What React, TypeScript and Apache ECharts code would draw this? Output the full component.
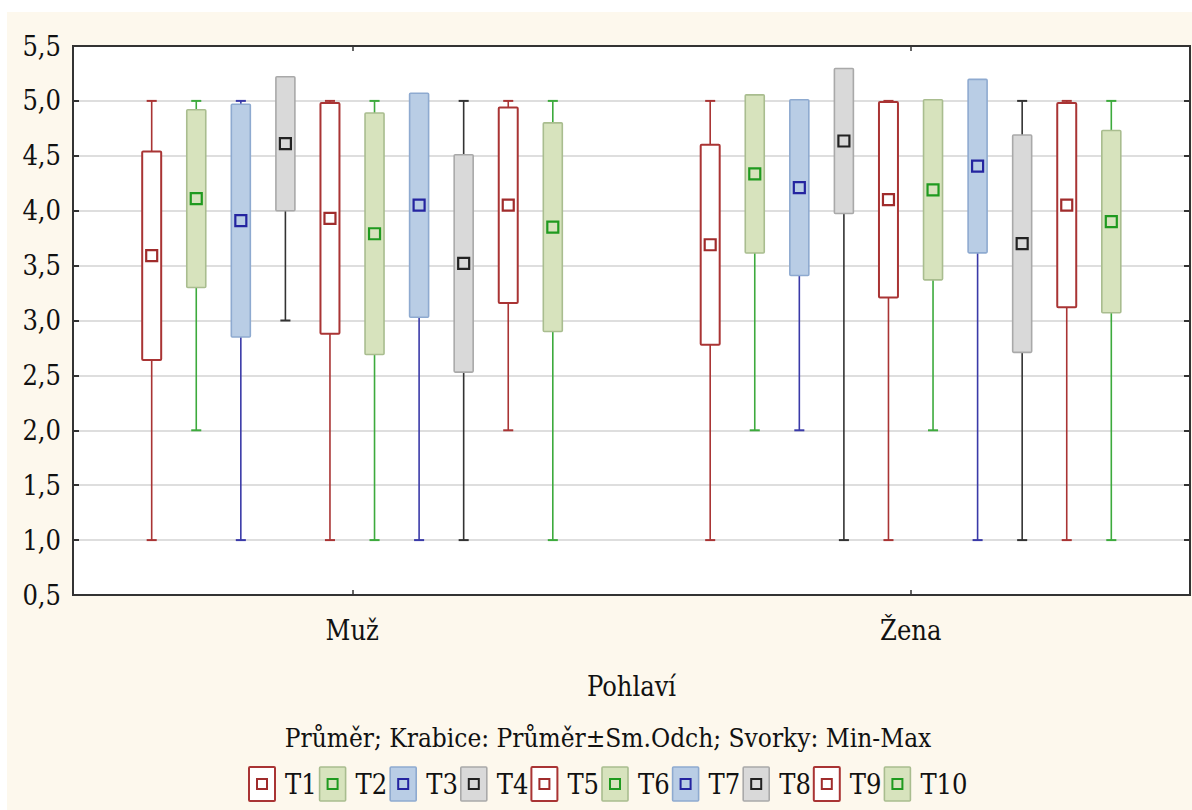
import React, { useEffect, useRef } from "react";
import * as echarts from "echarts";

// ---- data ----
const categories = ["Muž", "Žena"];
const seriesNames = ["T1", "T2", "T3", "T4", "T5", "T6", "T7", "T8", "T9", "T10"];
const yTicks = [0.5, 1.0, 1.5, 2.0, 2.5, 3.0, 3.5, 4.0, 4.5, 5.0, 5.5];

const meanMuz = [3.59, 4.11, 3.91, 4.61, 3.93, 3.79, 4.05, 3.52, 4.05, 3.85];
const sdMuz = [0.95, 0.81, 1.06, 0.61, 1.05, 1.1, 1.02, 0.99, 0.89, 0.95];
const minMuz = [1, 2, 1, 3, 1, 1, 1, 1, 2, 1];
const maxMuz = [5, 5, 5, 5, 5, 5, 5, 5, 5, 5];

const meanZena = [3.69, 4.335, 4.21, 4.635, 4.1, 4.19, 4.406, 3.7, 4.05, 3.9];
const sdZena = [0.91, 0.72, 0.8, 0.66, 0.89, 0.82, 0.79, 0.99, 0.93, 0.83];
const minZena = [1, 2, 2, 1, 1, 2, 1, 1, 1, 1];
const maxZena = [5, 5, 5, 5, 5, 5, 5, 5, 5, 5];

const axisTitle = "Pohlaví";
const caption = "Průměr; Krabice: Průměr±Sm.Odch; Svorky: Min-Max";

// ---- styles ----
const FONT = "DejaVu Serif Condensed, DejaVu Serif";
const FS = 27;
const TEXT = "#111";
type Sty = { fill: string; stroke: string; boxLw: number; line: string; marker: string };
const RED: Sty = { fill: "#ffffff", stroke: "#a93434", boxLw: 2, line: "#a93434", marker: "#a02c2c" };
const GREEN: Sty = { fill: "#d7e3bd", stroke: "#a9bd8f", boxLw: 1.6, line: "#3daa3d", marker: "#1f9a1f" };
const BLUE: Sty = { fill: "#b9cde5", stroke: "#8eaad0", boxLw: 1.6, line: "#3a3aa8", marker: "#2424a0" };
const GRAY: Sty = { fill: "#d9d9d9", stroke: "#a9a9a9", boxLw: 1.6, line: "#333333", marker: "#222222" };
const styles: Sty[] = [RED, GREEN, BLUE, GRAY, RED, GREEN, BLUE, GRAY, RED, GREEN];

const fmt = (v: number) => v.toFixed(1).replace(".", ",");

export default function App() {
  const ref = useRef<HTMLDivElement>(null);

  useEffect(() => {
    if (!ref.current) return;
    const chart = echarts.init(ref.current, undefined, { renderer: "svg" });

    const n = seriesNames.length;
    const series = seriesNames.map((name, i) => {
      const st = styles[i];
      const data = [
        [0, minMuz[i], meanMuz[i] - sdMuz[i], meanMuz[i], meanMuz[i] + sdMuz[i], maxMuz[i]],
        [1, minZena[i], meanZena[i] - sdZena[i], meanZena[i], meanZena[i] + sdZena[i], maxZena[i]],
      ];
      return {
        type: "custom",
        name,
        xAxisIndex: 0,
        yAxisIndex: 0,
        encode: { x: 0, y: [1, 2, 3, 4, 5] },
        data,
        renderItem: (params: any, api: any) => {
          const cat = api.value(0);
          const bw = api.size([1, 0])[0];
          const off = (params.seriesIndex - (n - 1) / 2) * bw * 0.0798;
          const pMin = api.coord([cat, api.value(1)]);
          const x = pMin[0] + off;
          const yMin = pMin[1];
          const yLo = api.coord([cat, api.value(2)])[1];
          const yMean = api.coord([cat, api.value(3)])[1];
          const yHi = api.coord([cat, api.value(4)])[1];
          const yMax = api.coord([cat, api.value(5)])[1];
          const boxW = bw * 0.034;
          const capW = bw * 0.018;
          const ms = 11;
          return {
            type: "group",
            children: [
              { type: "line", shape: { x1: x, y1: yMin, x2: x, y2: yMax }, style: { stroke: st.line, lineWidth: 1.6 } },
              { type: "line", shape: { x1: x - capW / 2, y1: yMin, x2: x + capW / 2, y2: yMin }, style: { stroke: st.line, lineWidth: 2 } },
              { type: "line", shape: { x1: x - capW / 2, y1: yMax, x2: x + capW / 2, y2: yMax }, style: { stroke: st.line, lineWidth: 2 } },
              {
                type: "rect",
                shape: { x: x - boxW / 2, y: yHi, width: boxW, height: yLo - yHi, r: 1 },
                style: { fill: st.fill, stroke: st.stroke, lineWidth: st.boxLw },
              },
              {
                type: "rect",
                shape: { x: x - ms / 2, y: yMean - ms / 2, width: ms, height: ms },
                style: { fill: "none", stroke: st.marker, lineWidth: 2.2 },
              },
            ],
          };
        },
      };
    });

    const legendEls: any[] = [];
    seriesNames.forEach((name, i) => {
      const st = styles[i];
      const lx = 242 + i * 70.6;
      const cy = 772;
      legendEls.push({
        type: "rect",
        shape: { x: lx, y: cy - 17, width: 26, height: 34, r: 1 },
        style: { fill: st.fill, stroke: st.stroke, lineWidth: st === RED ? 2 : 1.6 },
      });
      legendEls.push({
        type: "rect",
        shape: { x: lx + 8, y: cy - 5, width: 10, height: 10 },
        style: { fill: "none", stroke: st.marker, lineWidth: 2 },
      });
      legendEls.push({
        type: "text",
        x: lx + 36,
        y: cy,
        style: { text: name, fill: TEXT, fontFamily: FONT, fontSize: FS, textAlign: "left", textVerticalAlign: "middle" },
      });
    });

    chart.setOption({
      animation: false,
      backgroundColor: "#fdf8ed",
      textStyle: { fontFamily: FONT },
      grid: {
        left: 66,
        right: 2,
        top: 34,
        bottom: 215,
        show: true,
        backgroundColor: "#ffffff",
        borderColor: "#333",
        borderWidth: 2,
      },
      xAxis: [
        {
          type: "category",
          data: categories,
          position: "bottom",
          name: axisTitle,
          nameLocation: "middle",
          nameGap: 78,
          nameTextStyle: { fontFamily: FONT, fontSize: FS, color: TEXT },
          axisLine: { show: true, lineStyle: { color: "#333", width: 2 } },
          axisTick: { show: true, inside: true, length: 5, alignWithLabel: true, lineStyle: { color: "#333", width: 1.5 } },
          axisLabel: { fontFamily: FONT, fontSize: FS, color: TEXT, margin: 22 },
          splitLine: { show: false },
        },
        {
          type: "category",
          data: categories,
          position: "top",
          axisLine: { show: true, lineStyle: { color: "#333", width: 2 } },
          axisTick: { show: true, inside: true, length: 5, alignWithLabel: true, lineStyle: { color: "#333", width: 1.5 } },
          axisLabel: { show: false },
          splitLine: { show: false },
        },
      ],
      yAxis: [
        {
          type: "value",
          min: yTicks[0],
          max: yTicks[yTicks.length - 1],
          interval: 0.5,
          axisLine: { show: true, lineStyle: { color: "#333", width: 2 } },
          axisTick: { show: true, inside: true, length: 6, lineStyle: { color: "#333", width: 2 } },
          axisLabel: { fontFamily: FONT, fontSize: FS, color: TEXT, margin: 12, formatter: (v: number) => fmt(v) },
          splitLine: { show: true, lineStyle: { color: "#dedede", width: 2 } },
        },
        {
          type: "value",
          position: "right",
          min: yTicks[0],
          max: yTicks[yTicks.length - 1],
          interval: 0.5,
          axisLine: { show: true, lineStyle: { color: "#333", width: 2 } },
          axisTick: { show: true, inside: true, length: 6, lineStyle: { color: "#333", width: 2 } },
          axisLabel: { show: false },
          splitLine: { show: false },
        },
      ],
      graphic: [
        {
          type: "text",
          x: 601,
          y: 725.5,
          style: { text: caption, fill: TEXT, fontFamily: FONT, fontSize: 26, textAlign: "center", textVerticalAlign: "middle" },
        },
        ...legendEls,
      ],
      series,
    });

    return () => chart.dispose();
  }, []);

  return (
    <div
      ref={ref}
      style={{ position: "absolute", left: 7, top: 12, width: 1185, height: 798 }}
    />
  );
}
